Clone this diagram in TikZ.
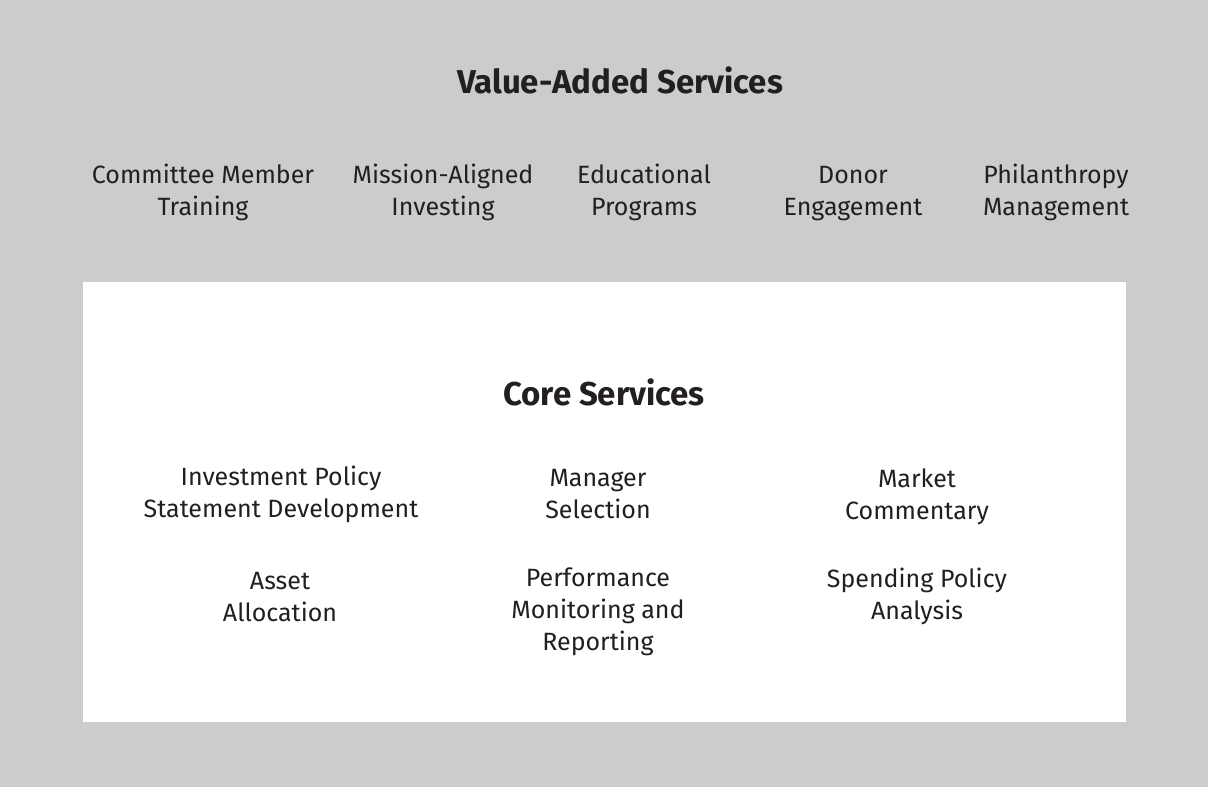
\documentclass[tikz,border=0pt]{standalone}
\usepackage{fontspec}
\setmainfont{Fira Sans}
\usepackage{xcolor}
\usetikzlibrary{positioning}

\definecolor{panelgray}{HTML}{CBCCCE}
\definecolor{inkdark}{HTML}{231F20}

\begin{document}
\begin{tikzpicture}[x=1pt, y=-1pt,
        service/.style={align=center, text=inkdark, font=\fontsize{25}{32}\selectfont, inner sep=0pt},
        heading/.style={text=inkdark, font=\fontsize{33}{38}\selectfont\bfseries, inner sep=0pt}]
            \fill[panelgray] (0, 0) rectangle (1208, 787);
            \useasboundingbox (0, 0) rectangle (1208, 787);
            \fill[white] (83, 282) rectangle (1126, 722);

            \node[heading] (valueadded) at (620, 80) {Value-Added Services};
            \node[service] (committee) at (203, 192) {Committee Member\\Training};
            \node[service] (mission) at (443, 192) {Mission-Aligned\\Investing};
            \node[service] (educational) at (644, 192) {Educational\\Programs};
            \node[service] (donor) at (853, 194) {Donor\\Engagement};
            \node[service] (philanthropy) at (1056, 192) {Philanthropy\\Management};

            \node[heading] (core) at (604, 392) {Core Services};
            \node[service] (ips) at (281, 494) {Investment Policy\\Statement Development};
            \node[service] (manager) at (598, 494) {Manager\\Selection};
            \node[service] (market) at (917, 497) {Market\\Commentary};
            \node[service] (asset) at (280, 597) {Asset\\Allocation};
            \node[service] (performance) at (598, 612) {Performance\\Monitoring and\\Reporting};
            \node[service] (spending) at (917, 596) {Spending Policy\\Analysis};
        \end{tikzpicture}
\end{document}
